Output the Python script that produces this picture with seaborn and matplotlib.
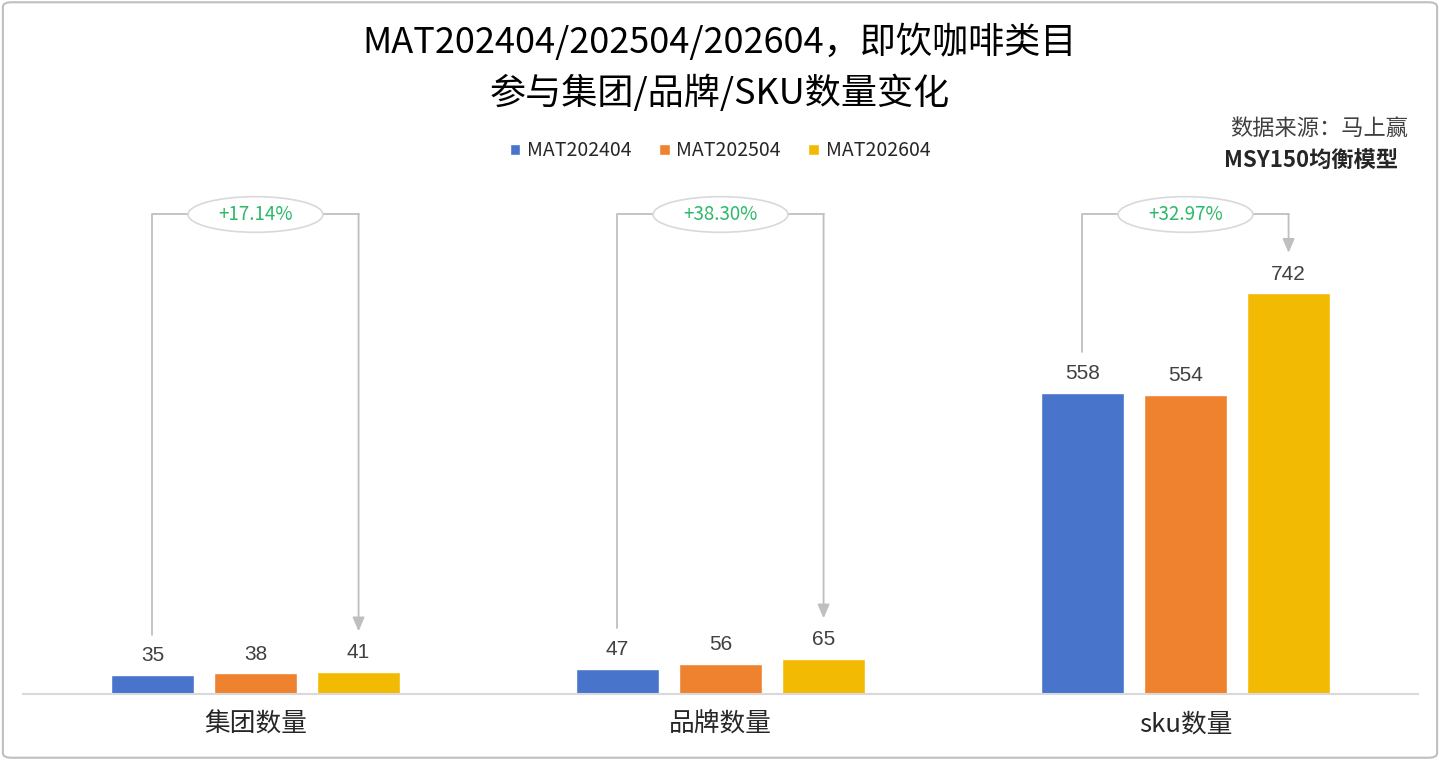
import matplotlib
matplotlib.use("Agg")
import matplotlib.pyplot as plt
from matplotlib.patches import Ellipse, FancyBboxPatch
import seaborn as sns
import pandas as pd

# Chart data
categories = ["集团数量", "品牌数量", "sku数量"]
periods = ["MAT202404", "MAT202504", "MAT202604"]
group_counts = [35, 38, 41]
brand_counts = [47, 56, 65]
sku_counts = [558, 554, 742]
colors = ["#4874CB", "#EE822F", "#F2BA02"]

title_lines = ["MAT202404/202504/202604，即饮咖啡类目", "参与集团/品牌/SKU数量变化"]
source_lines = ["数据来源：马上赢", "MSY150均衡模型"]

# long table for seaborn
rows = []
for cat, vals in zip(categories, [group_counts, brand_counts, sku_counts]):
    for p, v in zip(periods, vals):
        rows.append({"category": cat, "period": p, "value": v})
df = pd.DataFrame(rows)

sns.set_theme(style="white")
plt.rcParams["font.family"] = ["Noto Sans CJK SC", "DejaVu Sans"]

fig = plt.figure(figsize=(14.4, 7.6), dpi=100)
ax = fig.add_axes([23 / 1440, 66 / 760, 1395 / 1440, 540 / 760])

sns.barplot(data=df, x="category", y="value", hue="period", order=categories,
            hue_order=periods, palette=colors, width=0.665, gap=0.2,
            saturation=1, errorbar=None, ax=ax)

ax.set_xlim(-0.5, 2.5)
ax.set_ylim(0, 1000)
ax.set_xlabel("")
ax.set_ylabel("")
ax.set_yticks([])
for s in ["top", "right", "left"]:
    ax.spines[s].set_visible(False)
ax.spines["bottom"].set_color("#D9D9D9")
ax.spines["bottom"].set_linewidth(1.5)
ax.tick_params(axis="x", length=0, pad=13, labelsize=18.5, labelcolor="#262626")

# value labels
for cont in ax.containers:
    ax.bar_label(cont, padding=7, fontsize=15, color="#404040",
                 family=["Liberation Sans", "DejaVu Sans"])

# growth brackets: first period -> last period
bars_by_period = [list(c) for c in ax.containers]
line_top = 888
gray = "#BFBFBF"
for i, cat in enumerate(categories):
    b0 = bars_by_period[0][i]
    b2 = bars_by_period[-1][i]
    x0 = b0.get_x() + b0.get_width() / 2
    x2 = b2.get_x() + b2.get_width() / 2
    v0 = b0.get_height()
    v2 = b2.get_height()
    ax.plot([x0, x0, x2], [v0 + 75, line_top, line_top], color=gray, lw=1.3,
            clip_on=False, zorder=3)
    ax.annotate("", xy=(x2, v2 + 75), xytext=(x2, line_top),
                arrowprops=dict(arrowstyle="-|>,head_length=0.7,head_width=0.3",
                                color=gray, lw=1.3, shrinkA=0, shrinkB=0),
                annotation_clip=False, zorder=3)
    xc = (x0 + x2) / 2
    ax.add_patch(Ellipse((xc, line_top), width=0.29, height=66, facecolor="white",
                         edgecolor="#D9D9D9", lw=1.2, clip_on=False, zorder=4))
    growth = v2 / v0 - 1
    ax.text(xc, line_top, f"+{growth * 100:.2f}%", ha="center", va="center",
            fontsize=13.5, color="#2DB86A", zorder=5)

# legend
handles, labels = ax.get_legend_handles_labels()
ax.legend(handles, labels, loc="center", bbox_to_anchor=(0.5, 1 - 151 / 760),
          bbox_transform=fig.transFigure, ncol=3, frameon=False, fontsize=14,
          handlelength=0.55, handleheight=0.55, handletextpad=0.35,
          columnspacing=1.4, labelcolor="#262626")

# titles and source
fig.text(0.5, 1 - 42 / 760, title_lines[0], ha="center", va="center",
         fontsize=26, fontweight="medium", color="#000000")
fig.text(0.5, 1 - 93 / 760, title_lines[1], ha="center", va="center",
         fontsize=26, fontweight="medium", color="#000000")
fig.text(1408 / 1440, 1 - 128 / 760, source_lines[0], ha="right", va="center",
         fontsize=16, color="#404040")
fig.text(1398 / 1440, 1 - 160 / 760, source_lines[1], ha="right", va="center",
         fontsize=16, fontweight="bold", color="#262626")

# outer frame
fig.patches.append(FancyBboxPatch((0.002, 0.003), 0.996, 0.994,
                                  boxstyle="round,pad=0,rounding_size=0.006",
                                  transform=fig.transFigure, fill=False,
                                  edgecolor="#BFBFBF", lw=1.5))

fig.savefig("out.png", dpi=100)
